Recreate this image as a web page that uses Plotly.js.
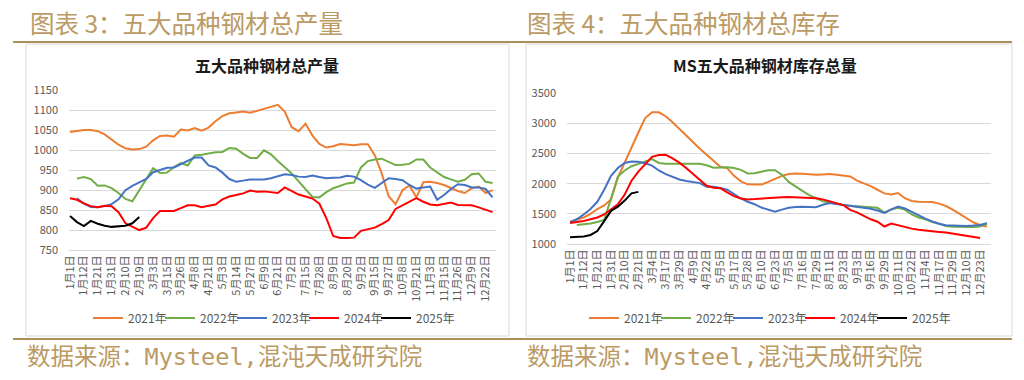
<!DOCTYPE html>
<html><head><meta charset="utf-8">
<script src="https://cdn.plot.ly/plotly-3.0.1.min.js"></script>
<style>html,body{margin:0;padding:0;background:#fff;}#chart{width:1024px;height:380px;}</style>
</head><body><div id="chart"></div>
<script>
// ---------- data: 五大品种钢材总产量 (left) ----------
const prodDates = ['1月1日','1月6日','1月12日','1月17日','1月21日','1月26日','1月31日','2月5日','2月10日','2月15日','2月19日','2月24日','3月3日','3月9日','3月15日','3月20日','3月26日','4月1日','4月8日','4月14日','4月21日','4月27日','5月3日','5月8日','5月14日','5月20日','5月27日','6月2日','6月9日','6月15日','6月21日','6月27日','7月2日','7月9日','7月15日','7月21日','7月28日','8月3日','8月9日','8月14日','8月20日','8月27日','9月2日','9月8日','9月15日','9月21日','9月27日','10月2日','10月8日','10月14日','10月21日','10月27日','11月3日','11月9日','11月15日','11月20日','11月26日','12月3日','12月9日','12月15日','12月22日','12月28日'];
const prodTicks = ['1月1日','1月12日','1月21日','1月31日','2月10日','2月19日','3月3日','3月15日','3月26日','4月8日','4月21日','5月3日','5月14日','5月27日','6月9日','6月21日','7月2日','7月15日','7月28日','8月9日','8月20日','9月2日','9月15日','9月27日','10月8日','10月21日','11月3日','11月15日','11月26日','12月9日','12月22日'];
const prod2021 = [1046,1049,1051,1051,1048,1040,1028,1014,1005,1002,1003,1009,1025,1036,1037,1034,1052,1050,1056,1049,1057,1073,1086,1093,1095,1097,1094,1099,1104,1109,1114,1097,1058,1048,1067,1037,1016,1007,1010,1016,1015,1013,1015,1015,988,942,885,865,900,912,882,920,921,918,913,905,898,893,905,909,893,900];
const prod2022 = [null,929,933,928,911,912,905,893,878,872,900,928,955,943,944,958,968,962,987,989,992,995,996,1006,1004,991,981,981,1000,990,973,958,942,922,902,883,882,895,905,911,917,919,957,973,977,979,972,963,964,966,977,977,957,944,933,927,921,926,940,942,921,918];
const prod2023 = [null,880,866,858,857,860,865,877,900,911,920,928,945,950,956,957,966,975,982,982,962,957,944,928,921,924,927,927,927,930,935,940,938,934,933,937,933,930,931,932,936,934,925,914,906,918,930,928,925,913,904,907,909,876,888,903,915,913,907,907,903,882];
const prod2024 = [880,876,867,860,857,861,860,845,817,809,800,806,830,848,848,848,855,862,862,857,861,864,877,884,888,892,899,896,897,895,893,907,897,889,884,879,866,830,785,780,780,781,798,802,806,815,825,853,862,870,880,871,864,862,865,869,863,862,862,857,851,845];
const prod2025 = [835,820,810,823,816,811,808,809,811,817,833];

// ---------- data: MS五大品种钢材库存总量 (right) ----------
const invDates = ['1月1日','1月6日','1月12日','1月17日','1月21日','1月26日','1月31日','2月5日','2月10日','2月16日','2月21日','2月26日','3月4日','3月10日','3月17日','3月23日','3月29日','4月3日','4月9日','4月15日','4月22日','4月28日','5月5日','5月11日','5月17日','5月22日','5月28日','6月4日','6月10日','6月16日','6月23日','6月29日','7月5日','7月10日','7月16日','7月22日','7月29日','8月4日','8月11日','8月17日','8月23日','8月29日','9月3日','9月9日','9月16日','9月22日','9月29日','10月5日','10月11日','10月16日','10月22日','10月28日','11月4日','11月10日','11月17日','11月23日','11月29日','12月4日','12月10日','12月16日','12月23日','12月29日'];
const invTicks = ['1月1日','1月12日','1月21日','1月31日','2月10日','2月21日','3月4日','3月17日','3月29日','4月9日','4月22日','5月5日','5月17日','5月28日','6月10日','6月23日','7月5日','7月16日','7月29日','8月11日','8月23日','9月3日','9月16日','9月29日','10月11日','10月22日','11月4日','11月17日','11月29日','12月10日','12月23日'];
const inv2021 = [1370,1405,1440,1500,1580,1640,1740,2100,2360,2600,2850,3090,3185,3185,3120,3020,2910,2800,2680,2580,2480,2380,2280,2260,2130,2040,1990,1985,1985,2030,2080,2130,2160,2170,2165,2155,2150,2155,2160,2150,2140,2120,2050,2010,1960,1900,1840,1820,1845,1760,1715,1700,1700,1695,1670,1630,1570,1500,1430,1360,1315,1290];
const inv2022 = [null,1315,1325,1340,1365,1400,1750,2120,2220,2290,2330,2370,2410,2345,2330,2330,2330,2340,2340,2330,2305,2265,2270,2275,2260,2230,2170,2175,2200,2225,2225,2150,2030,1950,1880,1810,1760,1710,1690,1665,1645,1635,1625,1610,1600,1600,1520,1570,1600,1570,1490,1440,1410,1365,1335,1300,1285,1280,1280,1280,1290,1340];
const inv2023 = [1360,1410,1490,1580,1700,1900,2130,2260,2345,2370,2365,2340,2300,2220,2160,2120,2070,2045,2030,2010,1950,1950,1930,1900,1830,1755,1700,1660,1605,1570,1535,1570,1600,1612,1620,1615,1610,1650,1680,1665,1650,1635,1620,1600,1585,1555,1515,1575,1620,1590,1530,1475,1420,1375,1335,1312,1305,1300,1300,1305,1315,1345];
const inv2024 = [1350,1365,1380,1410,1440,1490,1570,1660,1820,2050,2200,2330,2445,2475,2480,2420,2350,2260,2165,2060,1965,1935,1925,1855,1795,1755,1740,1745,1755,1760,1765,1775,1780,1775,1770,1765,1760,1740,1710,1675,1645,1565,1525,1465,1410,1370,1290,1340,1310,1280,1255,1235,1220,1207,1200,1190,1170,1150,1130,1110,1100,null];
const inv2025 = [1110,1115,1125,1150,1215,1380,1550,1620,1720,1840,1865];

const seriesNames = ['2021年','2022年','2023年','2024年','2025年'];
const prodSeries = [prod2021, prod2022, prod2023, prod2024, prod2025];
const invSeries = [inv2021, inv2022, inv2023, inv2024, inv2025];

// ---------- styles ----------
const colors = ['#ED7D31','#70AD47','#4472C4','#FF0000','#000000'];
const W = 1024, H = 380;
const px = v => v / W;
const py = v => 1 - v / H;
const gold = '#bb9a64';
const cjk = '"Noto Sans CJK SC", "Noto Sans", sans-serif';
const mono = '"DejaVu Sans Mono", "Noto Sans CJK SC", monospace';

const traces = [];
prodSeries.forEach((ys, i) => traces.push({
  type: 'scatter', mode: 'lines', x: prodDates, y: ys, name: seriesNames[i],
  xaxis: 'x', yaxis: 'y', legend: 'legend',
  line: {color: colors[i], width: 2}, hoverinfo: 'skip'
}));
invSeries.forEach((ys, i) => traces.push({
  type: 'scatter', mode: 'lines', x: invDates, y: ys, name: seriesNames[i],
  xaxis: 'x2', yaxis: 'y2', legend: 'legend2',
  line: {color: colors[i], width: 2}, hoverinfo: 'skip'
}));

const xBase = {
  type: 'category', tickmode: 'array', tickangle: -90, showgrid: false,
  showline: true, linecolor: '#d9d9d9', linewidth: 1, ticks: '', zeroline: false,
  tickfont: {size: 11, color: '#595959', family: cjk}, fixedrange: true
};
const yBase = {
  showgrid: true, gridcolor: '#d9d9d9', gridwidth: 1, zeroline: false, showline: false,
  ticks: '', ticklabelstandoff: 10, tickfont: {size: 11, color: '#595959', family: cjk}, fixedrange: true
};
const legBase = {
  orientation: 'h', xanchor: 'left', yanchor: 'middle', y: py(318),
  font: {size: 12, color: '#595959', family: cjk}, bgcolor: 'rgba(0,0,0,0)',
  entrywidth: 27, entrywidthmode: 'pixels', itemclick: false, itemdoubleclick: false
};

const layout = {
  width: W, height: H, margin: {l: 0, r: 0, t: 0, b: 0},
  paper_bgcolor: '#fff', plot_bgcolor: '#fff',
  font: {family: cjk, color: '#595959', size: 11},
  showlegend: true,
  xaxis: Object.assign({}, xBase, {domain: [px(69), px(496)], range: [-0.15, 61.5], tickvals: prodTicks, anchor: 'y'}),
  yaxis: Object.assign({}, yBase, {domain: [py(250), py(90.5)], range: [750, 1150], dtick: 50, tick0: 750, anchor: 'x'}),
  xaxis2: Object.assign({}, xBase, {domain: [px(567), px(991)], range: [-0.44, 61.6], tickvals: invTicks, anchor: 'y2'}),
  yaxis2: Object.assign({}, yBase, {domain: [py(244), py(93.3)], range: [1000, 3500], dtick: 500, tick0: 1000, anchor: 'x2'}),
  legend: Object.assign({}, legBase, {x: px(88)}),
  legend2: Object.assign({}, legBase, {x: px(584)}),
  shapes: [
    {type: 'rect', xref: 'paper', yref: 'paper', x0: px(26), x1: px(509), y0: py(336), y1: py(44), line: {color: '#d9d9d9', width: 1}},
    {type: 'rect', xref: 'paper', yref: 'paper', x0: px(526), x1: px(1012), y0: py(336), y1: py(44), line: {color: '#d9d9d9', width: 1}},
    {type: 'line', xref: 'paper', yref: 'paper', x0: px(13), x1: px(1012), y0: py(42), y1: py(42), line: {color: '#ad8f5a', width: 2}},
    {type: 'line', xref: 'paper', yref: 'paper', x0: px(13), x1: px(1012), y0: py(339), y1: py(339), line: {color: '#ad8f5a', width: 2}}
  ],
  annotations: [
    {text: '图表 3：五大品种钢材总产量', xref: 'paper', yref: 'paper', x: px(28), y: py(23), xanchor: 'left', yanchor: 'middle', showarrow: false, font: {size: 24.5, color: gold, family: cjk}},
    {text: '图表 4：五大品种钢材总库存', xref: 'paper', yref: 'paper', x: px(525), y: py(23), xanchor: 'left', yanchor: 'middle', showarrow: false, font: {size: 24.5, color: gold, family: cjk}},
    {text: '五大品种钢材总产量', xref: 'paper', yref: 'paper', x: px(267), y: py(65), xanchor: 'center', yanchor: 'middle', showarrow: false, font: {size: 16, color: '#1a1a1a', family: cjk, weight: 'bold'}},
    {text: 'MS五大品种钢材库存总量', xref: 'paper', yref: 'paper', x: px(765), y: py(65), xanchor: 'center', yanchor: 'middle', showarrow: false, font: {size: 16, color: '#1a1a1a', family: cjk, weight: 'bold'}},
    {text: '数据来源：Mysteel,混沌天成研究院', xref: 'paper', yref: 'paper', x: px(25), y: py(357), xanchor: 'left', yanchor: 'middle', showarrow: false, font: {size: 23.5, color: gold, family: mono}},
    {text: '数据来源：Mysteel,混沌天成研究院', xref: 'paper', yref: 'paper', x: px(525), y: py(357), xanchor: 'left', yanchor: 'middle', showarrow: false, font: {size: 23.5, color: gold, family: mono}}
  ]
};

Plotly.newPlot('chart', traces, layout, {displayModeBar: false, staticPlot: true, responsive: false}).then(gd => {
  // let the last legend label overflow its fixed-width entry instead of being clipped
  gd.querySelectorAll('g.legend, g.legend2, g.legend .scrollbox, g.legend2 .scrollbox, .infolayer [clip-path]').forEach(el => el.removeAttribute('clip-path'));
});
</script>
</body></html>
